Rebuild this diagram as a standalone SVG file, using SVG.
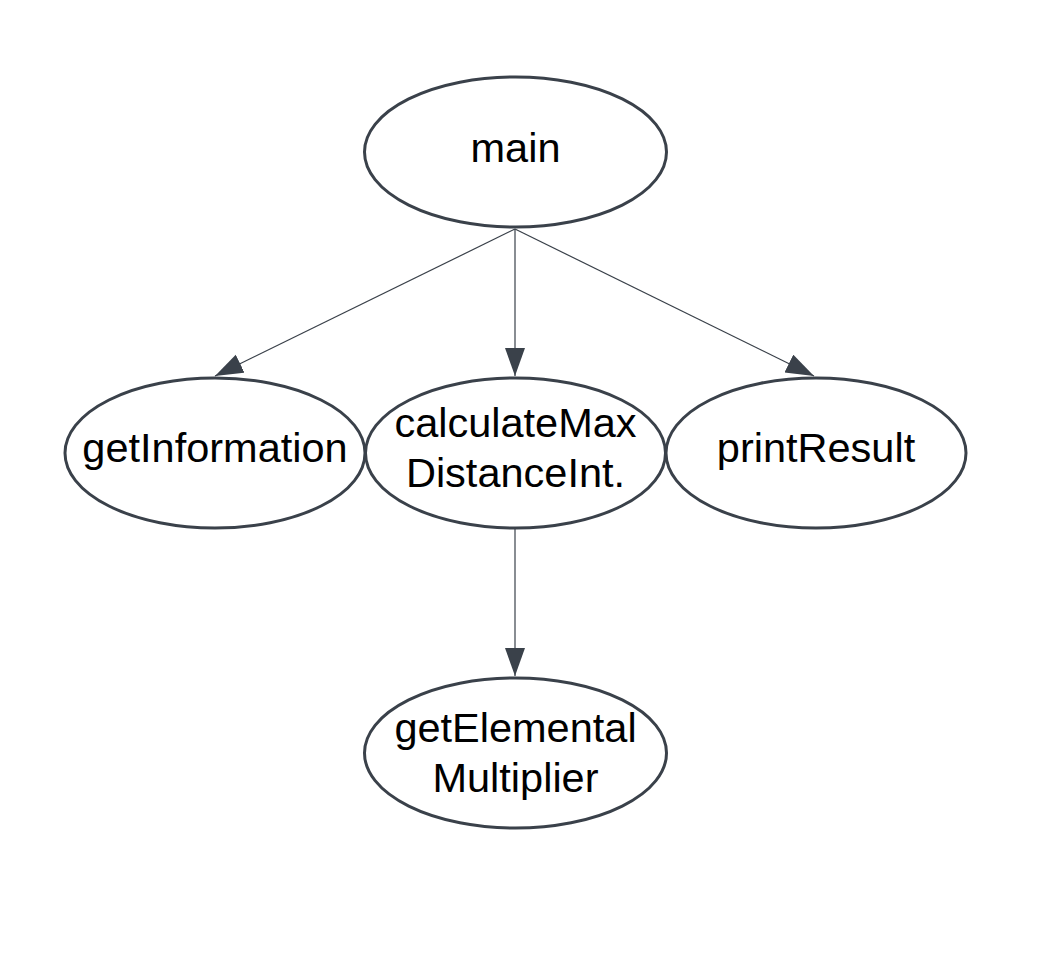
<svg xmlns="http://www.w3.org/2000/svg" width="1043" height="954" viewBox="0 0 1043 954">
<style>
.node ellipse{fill:#ffffff;stroke:#3a414a;stroke-width:3}
.node text{font-family:"Liberation Sans",Arial,sans-serif;font-size:41.5px;fill:#000000;text-anchor:middle}
.edge{stroke:#3a414a;stroke-width:1.2;fill:none;marker-end:url(#arrow)}
</style>
<defs>
<marker id="arrow" markerUnits="userSpaceOnUse" markerWidth="30" markerHeight="22" refX="28" refY="10" orient="auto">
<path d="M0,0 L28,10 L0,20 z" fill="#3a414a"/>
</marker>
</defs>
<rect width="1043" height="954" fill="#ffffff"/>
<g id="connectors">
<line class="edge" x1="515" y1="229" x2="215" y2="376"/>
<line class="edge" x1="515" y1="229" x2="515" y2="376"/>
<line class="edge" x1="515" y1="229" x2="814" y2="376"/>
<line class="edge" x1="515" y1="529" x2="515" y2="676"/>
</g>
<g id="main" class="node">
<ellipse cx="515.5" cy="152" rx="151" ry="75"/>
<text x="515.5" y="162">main</text>
</g>
<g id="getInformation" class="node">
<ellipse cx="215" cy="453" rx="150" ry="75"/>
<text x="215" y="462">getInformation</text>
</g>
<g id="calculateMaxDistanceInt" class="node">
<ellipse cx="515.5" cy="453" rx="150" ry="75"/>
<text x="515.5" y="437">calculateMax</text>
<text x="515.5" y="487">DistanceInt.</text>
</g>
<g id="printResult" class="node">
<ellipse cx="816" cy="453" rx="150" ry="75"/>
<text x="816" y="462">printResult</text>
</g>
<g id="getElementalMultiplier" class="node">
<ellipse cx="515.5" cy="753" rx="151" ry="75"/>
<text x="515.5" y="742">getElemental</text>
<text x="515.5" y="792">Multiplier</text>
</g>
</svg>
